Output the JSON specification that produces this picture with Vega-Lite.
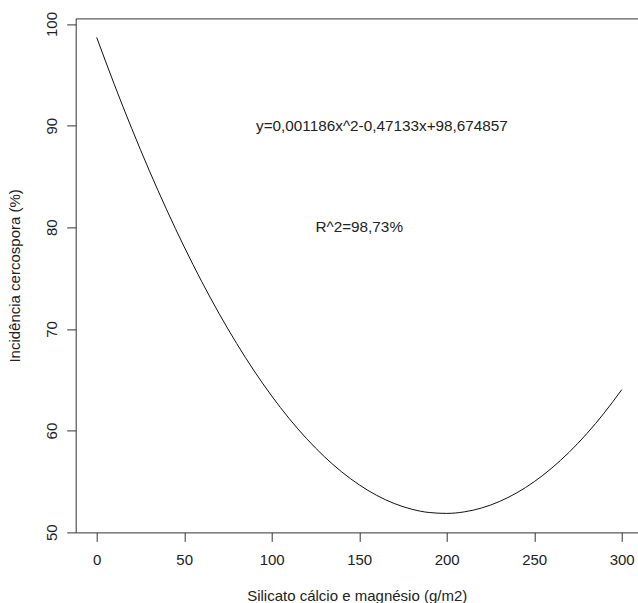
{
  "$schema": "https://vega.github.io/schema/vega-lite/v6.json",
  "autosize": {"type": "none"},
  "padding": {"left": 75.7, "top": 18.4, "right": 0.3, "bottom": 70.6},
  "width": 562,
  "height": 514,
  "background": "white",
  "config": {
    "view": {"stroke": null},
    "font": "Liberation Sans",
    "axis": {
      "grid": false,
      "domainColor": "#333",
      "tickColor": "#333",
      "labelColor": "#222",
      "titleColor": "#222",
      "labelFont": "Liberation Sans",
      "titleFont": "Liberation Sans",
      "labelFontSize": 15,
      "titleFontSize": 15,
      "titleFontWeight": "normal",
      "tickSize": 9
    }
  },
  "datasets": {
    "curve": [
      {"x": 0, "y": 98.6749}, {"x": 10, "y": 94.0802}, {"x": 20, "y": 89.7227},
      {"x": 30, "y": 85.6024}, {"x": 40, "y": 81.7193}, {"x": 50, "y": 78.0734},
      {"x": 60, "y": 74.6647}, {"x": 70, "y": 71.4932}, {"x": 80, "y": 68.5589},
      {"x": 90, "y": 65.8618}, {"x": 100, "y": 63.4019}, {"x": 110, "y": 61.1792},
      {"x": 120, "y": 59.1937}, {"x": 130, "y": 57.4454}, {"x": 140, "y": 55.9343},
      {"x": 150, "y": 54.6604}, {"x": 160, "y": 53.6237}, {"x": 170, "y": 52.8242},
      {"x": 180, "y": 52.2619}, {"x": 190, "y": 51.9368}, {"x": 200, "y": 51.8489},
      {"x": 210, "y": 51.9982}, {"x": 220, "y": 52.3847}, {"x": 230, "y": 53.0084},
      {"x": 240, "y": 53.8693}, {"x": 250, "y": 54.9674}, {"x": 260, "y": 56.3027},
      {"x": 270, "y": 57.8752}, {"x": 280, "y": 59.6849}, {"x": 290, "y": 61.7318},
      {"x": 300, "y": 64.0159}
    ],
    "labels": [
      {"x": 163, "y": 90, "text": "y=0,001186x^2-0,47133x+98,674857"},
      {"x": 150, "y": 80, "text": "R^2=98,73%"}
    ]
  },
  "layer": [
    {
      "data": {"name": "curve"},
      "mark": {"type": "line", "color": "#111", "strokeWidth": 1, "interpolate": "monotone"},
      "encoding": {
        "x": {
          "field": "x", "type": "quantitative",
          "scale": {"domain": [-12, 309.14], "nice": false, "zero": false},
          "axis": {
            "orient": "bottom",
            "values": [0, 50, 100, 150, 200, 250, 300],
            "labelPadding": 11,
            "title": "Silicato cálcio e magnésio (g/m2)",
            "titlePadding": 21
          }
        },
        "y": {
          "field": "y", "type": "quantitative",
          "scale": {"domain": [49.98, 100.55], "nice": false, "zero": false},
          "axis": {
            "values": [50, 60, 70, 80, 90, 100],
            "labelAngle": -90,
            "labelAlign": "center",
            "labelBaseline": "alphabetic",
            "labelPadding": 10,
            "title": "Incidência cercospora (%)",
            "titlePadding": 22
          }
        }
      }
    },
    {
      "data": {"name": "labels"},
      "mark": {"type": "text", "font": "Liberation Sans", "fontSize": 15.3, "color": "#222", "align": "center", "baseline": "middle"},
      "encoding": {
        "x": {"field": "x", "type": "quantitative", "axis": {"orient": "top", "ticks": false, "labels": false, "title": null, "domain": true}},
        "y": {"field": "y", "type": "quantitative"},
        "text": {"field": "text"}
      }
    }
  ],
  "resolve": {"axis": {"x": "independent"}}
}
